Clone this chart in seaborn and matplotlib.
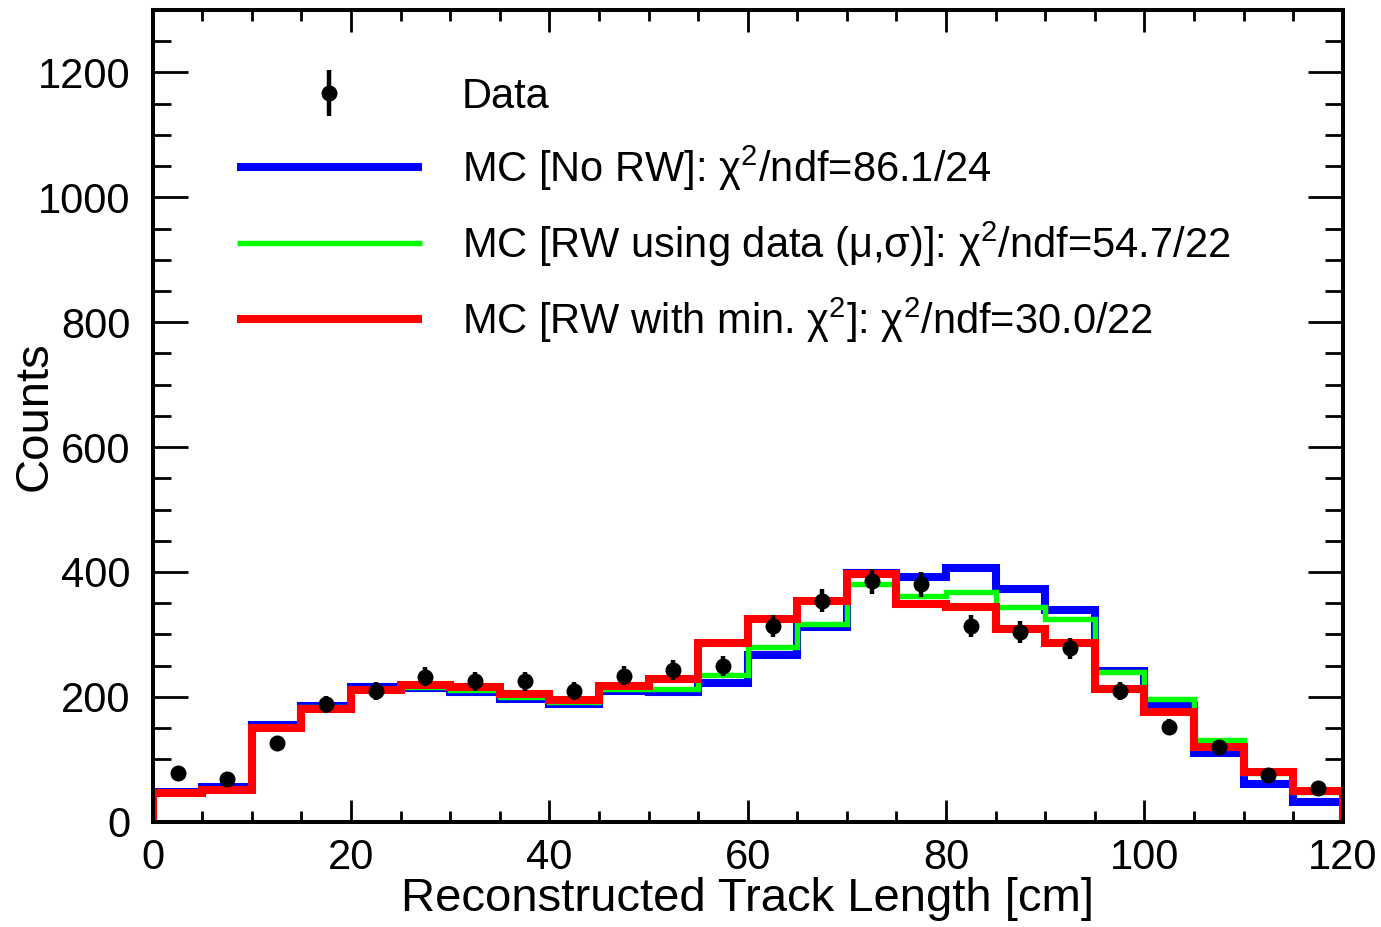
import numpy as np
import pandas as pd
import matplotlib
matplotlib.use("Agg")
import matplotlib.pyplot as plt
from matplotlib.ticker import MultipleLocator
from matplotlib.lines import Line2D
from matplotlib.container import ErrorbarContainer
from matplotlib.legend_handler import HandlerErrorbar
import seaborn as sns

# Binning: 24 bins of 5 cm from 0 to 120 cm
bin_edges = np.arange(0, 125, 5)
bin_centers = 0.5 * (bin_edges[:-1] + bin_edges[1:])

data_counts = [78, 68, 126, 188, 210, 232, 225, 225, 210, 234, 243, 249,
               314, 354, 385, 380, 314, 304, 278, 210, 152, 120, 74, 54]

mc_no_rw = [48, 55, 155, 185, 215, 214, 208, 197, 189, 209, 208, 222,
            267, 312, 398, 392, 406, 372, 339, 242, 185, 110, 61, 32]

mc_rw_data = [46, 53, 152, 183, 213, 216, 211, 200, 191, 212, 213, 235,
              280, 317, 380, 362, 368, 344, 324, 240, 196, 131, 78, 47]

mc_rw_minchi2 = [46, 50, 150, 181, 211, 219, 216, 204, 195, 217, 228, 286,
                 325, 354, 396, 349, 344, 308, 286, 213, 175, 120, 80, 49]

labels = [
    "Data",
    r"MC [No RW]: $\mathrm{\chi}^{2}$/ndf=86.1/24",
    r"MC [RW using data (μ,σ)]: $\mathrm{\chi}^{2}$/ndf=54.7/22",
    r"MC [RW with min. $\mathrm{\chi}^{2}$]: $\mathrm{\chi}^{2}$/ndf=30.0/22",
]
colors = ["#0000ff", "#00ff00", "#ff0000"]
widths = [5.8, 3.9, 5.8]

sns.set_theme(style="ticks")
plt.rcParams["font.family"] = ["Liberation Sans", "DejaVu Sans"]
plt.rcParams["mathtext.fontset"] = "custom"
plt.rcParams["mathtext.rm"] = "Liberation Sans"
plt.rcParams["mathtext.it"] = "Liberation Sans:italic"
plt.rcParams["mathtext.bf"] = "Liberation Sans:bold"
plt.rcParams["axes.linewidth"] = 2.9

fig = plt.figure(figsize=(13.81, 9.27), dpi=100)
ax = fig.add_axes([0.1106, 0.1136, 0.8617, 0.8756])

df = pd.DataFrame({
    "x": bin_centers,
    "no_rw": mc_no_rw,
    "rw_data": mc_rw_data,
    "rw_min": mc_rw_minchi2,
})

handles = []
for col, c, lw in zip(["no_rw", "rw_data", "rw_min"], colors, widths):
    sns.histplot(data=df, x="x", weights=col, binwidth=5,
                 binrange=(float(bin_edges[0]), float(bin_edges[-1])),
                 element="step", fill=False, color=c, linewidth=lw, ax=ax,
                 solid_joinstyle="miter", solid_capstyle="butt", zorder=2)
    # close the outline down to zero at both ends of the range
    ax.vlines([bin_edges[0], bin_edges[-1]], 0, [df[col].iloc[0], df[col].iloc[-1]],
              color=c, linewidth=lw, zorder=2)
    handles.append(Line2D([], [], color=c, linewidth=lw, solid_capstyle="butt"))

errs = np.sqrt(np.asarray(data_counts, dtype=float))
eb = ax.errorbar(bin_centers, data_counts, yerr=errs, fmt="o", color="black",
                 markersize=10.5, elinewidth=3.2, capsize=0, zorder=5)

ax.set_xlim(0, 120)
ax.set_ylim(0, 1300)

ax.xaxis.set_major_locator(MultipleLocator(20))
ax.xaxis.set_minor_locator(MultipleLocator(5))
ax.yaxis.set_major_locator(MultipleLocator(200))
ax.yaxis.set_minor_locator(MultipleLocator(50))

ax.tick_params(which="both", direction="in", top=True, right=True,
               width=2.0, color="black", labelcolor="black")
ax.tick_params(axis="x", which="major", length=16, pad=12, labelsize=30)
ax.tick_params(axis="x", which="minor", length=8)
ax.tick_params(axis="y", which="major", length=25, pad=16, labelsize=30)
ax.tick_params(axis="y", which="minor", length=13)

for s in ax.spines.values():
    s.set_color("black")
    s.set_linewidth(2.9)
    s.set_visible(True)

ax.set_xlabel("Reconstructed Track Length [cm]", fontsize=34, color="black")
ax.set_ylabel("Counts", fontsize=34, color="black")
ax.xaxis.set_label_coords(0.5, -0.068)
ax.yaxis.set_label_coords(-0.081, 0.5)

leg = ax.legend([eb] + handles, labels, loc="upper left",
                bbox_to_anchor=(0.0708, 0.918), frameon=False, fontsize=30,
                handlelength=4.44, handletextpad=0.96, labelspacing=0.64,
                borderpad=0, borderaxespad=0,
                handler_map={ErrorbarContainer: HandlerErrorbar(yerr_size=0.55)})
for t in leg.get_texts():
    t.set_color("black")

fig.savefig("out.png", dpi=100, facecolor="white")
